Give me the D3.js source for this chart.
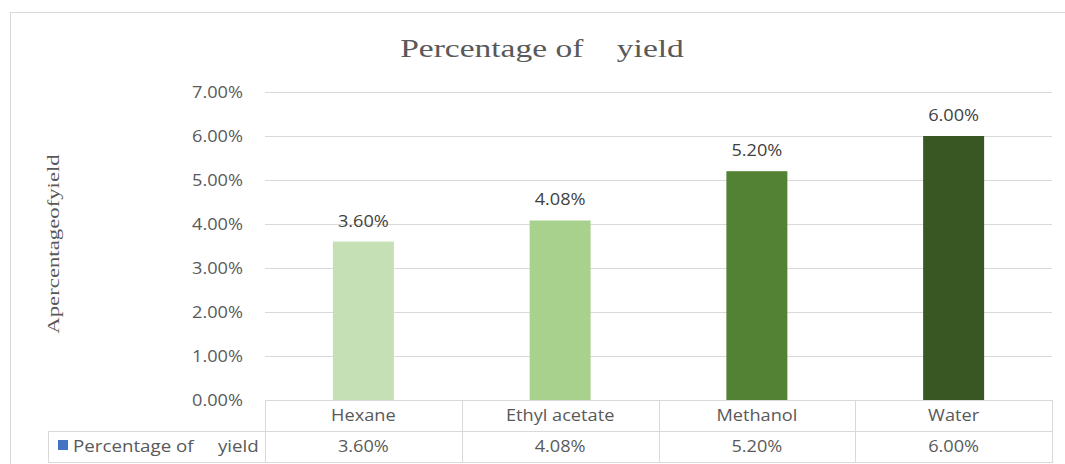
<!DOCTYPE html>
<html>
<head>
<meta charset="utf-8">
<script src="https://cdn.jsdelivr.net/npm/d3@7"></script>
<style>
  html, body { margin: 0; padding: 0; background: #ffffff; }
  svg { display: block; }
  text { white-space: pre; }
</style>
</head>
<body>
<svg id="chart" width="1065" height="464"></svg>
<script>
// Extraction yield per solvent
const categories = ["Hexane", "Ethyl acetate", "Methanol", "Water"];
const yieldValues = [0.036, 0.0408, 0.052, 0.06];
const yTicks = [0, 0.01, 0.02, 0.03, 0.04, 0.05, 0.06, 0.07];
const barColors = ["#c5e0b4", "#a9d18e", "#548235", "#385723"];
const seriesName = "Percentage of     yield";
const chartTitle = "Percentage of    yield";
const yTitle = "Apercentageofyield";

const svg = d3.select("#chart");
const W = 1065, H = 464;

const plot = { left: 265, right: 1052, top: 92, bottom: 400 };
const table = { legendLeft: 48, top: 400, mid: 431, bottom: 462 };

const sansFont = "'Open Sans', 'Noto Sans', sans-serif";
const serifFont = "'Liberation Serif', 'DejaVu Serif', serif";
const sansStretch = 1.07;
const serifStretch = 1.34;
const gridColor = "#d9d9d9";
const textColor = "#595959";

// chart area frame
svg.append("rect")
  .attr("x", 10.5).attr("y", 12.5)
  .attr("width", W + 20).attr("height", H + 20)
  .attr("fill", "#fff").attr("stroke", gridColor);

const x = d3.scaleBand()
  .domain(categories)
  .range([plot.left, plot.right])
  .paddingInner(0.69)
  .paddingOuter(0.345);

const col = d3.scaleBand()
  .domain(categories)
  .range([plot.left, plot.right]);

const y = d3.scaleLinear()
  .domain([0, 0.07])
  .range([plot.bottom, plot.top]);

const fmt = d3.format(".2%");

// horizontal gridlines
const grid = svg.append("g")
  .attr("transform", `translate(${plot.left},0)`)
  .call(d3.axisLeft(y).tickValues(yTicks).tickSize(-(plot.right - plot.left)).tickFormat(""));
grid.select(".domain").remove();
grid.selectAll(".tick line").attr("stroke", gridColor).attr("stroke-width", 1);

// value axis labels
const yAxis = svg.append("g")
  .attr("transform", `translate(${plot.left},0)`)
  .call(d3.axisLeft(y).tickValues(yTicks).tickSize(0).tickPadding(22).tickFormat(fmt));
yAxis.select(".domain").remove();
yAxis.selectAll(".tick text")
  .attr("font-family", sansFont)
  .attr("font-size", 17)
  .attr("fill", textColor)
  .attr("x", -22 / sansStretch)
  .attr("transform", `scale(${sansStretch},1)`);

// bars
svg.append("g").selectAll("rect")
  .data(categories)
  .join("rect")
  .attr("x", d => x(d))
  .attr("width", x.bandwidth())
  .attr("y", (d, i) => y(yieldValues[i]))
  .attr("height", (d, i) => y(0) - y(yieldValues[i]))
  .attr("fill", (d, i) => barColors[i]);

// helper: horizontally stretched text
function stretchedText(g, px, py, str, opts) {
  const t = g.append("text")
    .attr("transform", `translate(${px},${py})${opts.rotate ? " rotate(-90)" : ""} scale(${opts.sx},1)`)
    .attr("text-anchor", opts.anchor || "middle")
    .attr("font-family", opts.font)
    .attr("font-size", opts.size)
    .attr("fill", opts.fill || textColor)
    .text(str);
  return t;
}

// data labels
const labels = svg.append("g");
categories.forEach((c, i) => {
  stretchedText(labels, x(c) + x.bandwidth() / 2, y(yieldValues[i]) - 15, fmt(yieldValues[i]),
    { sx: sansStretch, font: sansFont, size: 17, fill: "#404040" });
});

// title
stretchedText(svg, 542, 57, chartTitle, { sx: serifStretch, font: serifFont, size: 25 });

// value axis title
stretchedText(svg, 59, 244, yTitle, { sx: serifStretch, font: serifFont, size: 17, rotate: true });

// data table
const tbl = svg.append("g").attr("stroke", gridColor).attr("stroke-width", 1).attr("fill", "none");
tbl.append("line").attr("x1", plot.left).attr("x2", plot.right).attr("y1", table.top + 0.5).attr("y2", table.top + 0.5);
tbl.append("line").attr("x1", table.legendLeft).attr("x2", plot.right).attr("y1", table.mid + 0.5).attr("y2", table.mid + 0.5);
tbl.append("line").attr("x1", table.legendLeft).attr("x2", plot.right).attr("y1", table.bottom + 0.5).attr("y2", table.bottom + 0.5);
tbl.append("line").attr("x1", table.legendLeft + 0.5).attr("x2", table.legendLeft + 0.5).attr("y1", table.mid).attr("y2", table.bottom + 1);
const colEdges = categories.map(c => col(c)).concat([plot.right]);
tbl.selectAll("line.col")
  .data(colEdges)
  .join("line")
  .attr("class", "col")
  .attr("x1", d => Math.round(d) + 0.5).attr("x2", d => Math.round(d) + 0.5)
  .attr("y1", table.top).attr("y2", table.bottom + 1);

const cells = svg.append("g");
categories.forEach((c, i) => {
  const cx = col(c) + col.bandwidth() / 2;
  stretchedText(cells, cx, 421, c, { sx: sansStretch, font: sansFont, size: 17 });
  stretchedText(cells, cx, 452, fmt(yieldValues[i]), { sx: sansStretch, font: sansFont, size: 17 });
});

// legend key in the table
svg.append("rect")
  .attr("x", 58).attr("y", 440).attr("width", 10).attr("height", 10)
  .attr("fill", "#4472c4");
stretchedText(cells, 73, 452, seriesName, { sx: sansStretch * 1.03, font: sansFont, size: 17, anchor: "start" });
</script>
</body>
</html>
